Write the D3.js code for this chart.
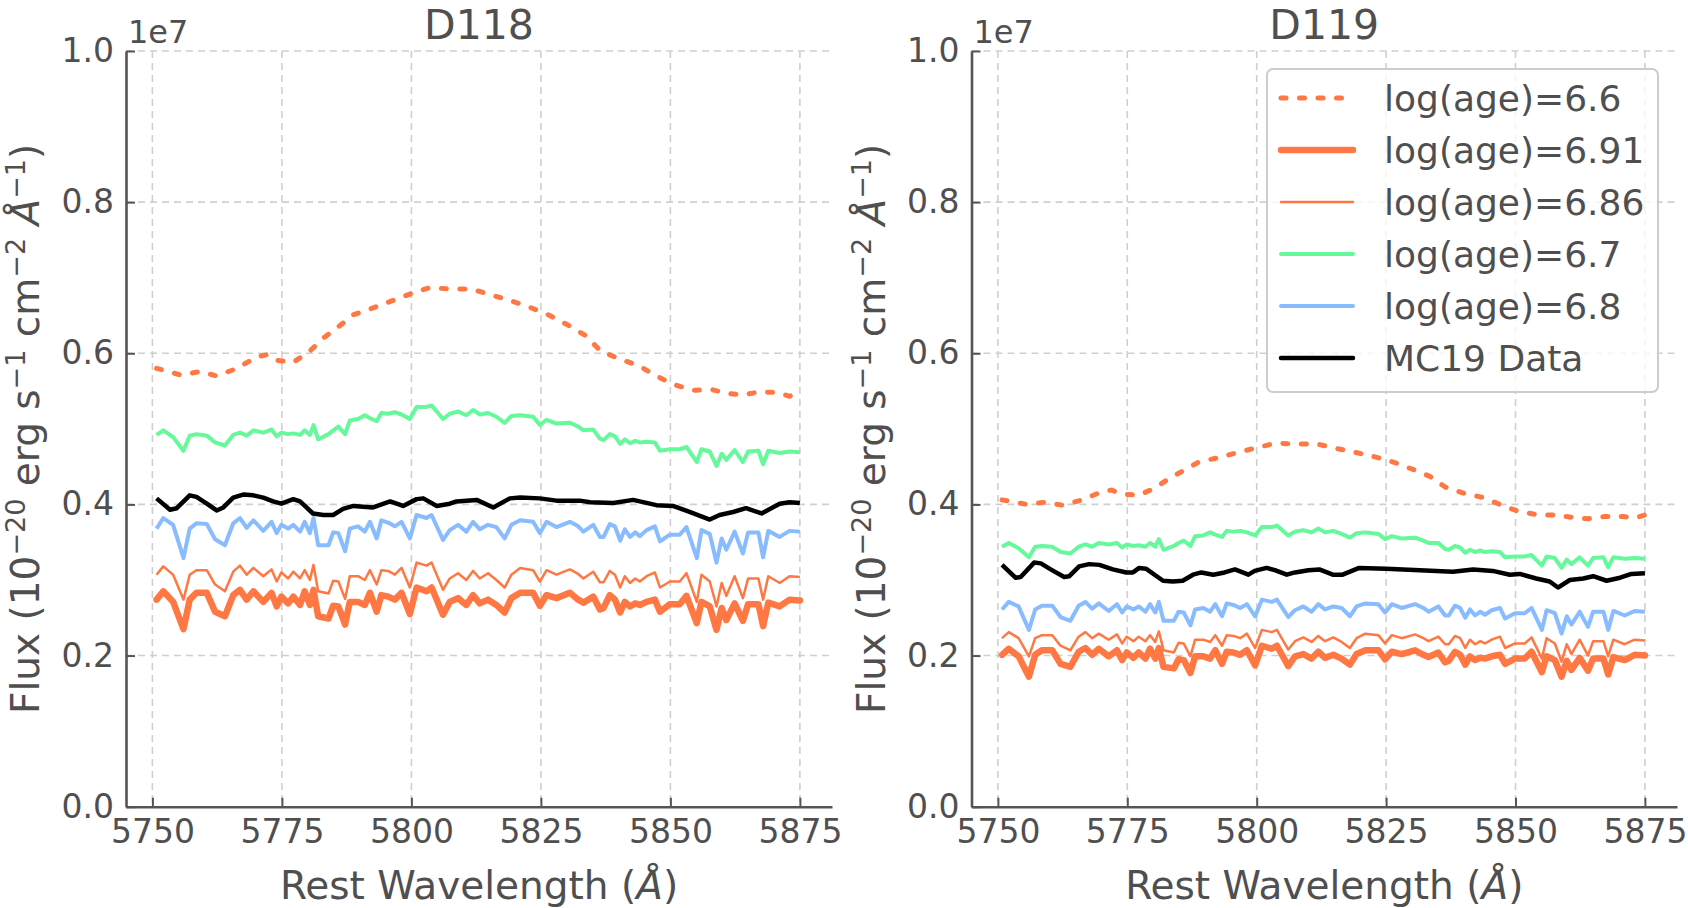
<!DOCTYPE html>
<html>
<head>
<meta charset="utf-8">
<script src="https://cdnjs.cloudflare.com/ajax/libs/d3/7.8.5/d3.min.js"></script>
<style>
body { margin:0; background:white; }
text { font-family: "DejaVu Sans", sans-serif; fill:#4f4f4f; }
</style>
</head>
<body>
<div id="chart"></div>
<script>

// Data (flux in units of 1e7)

var xTicks = [5750, 5775, 5800, 5825, 5850, 5875];
var yTicks = [0.0, 0.2, 0.4, 0.6, 0.8, 1.0];
var panelTitles = ["D118", "D119"];
var seriesLabels = ["log(age)=6.6", "log(age)=6.91", "log(age)=6.86", "log(age)=6.7", "log(age)=6.8", "MC19 Data"];

var waveModel = [5750.8,5752.1,5754.0,5756.0,5757.2,5758.5,5760.5,5762.1,5764.0,5765.6,
	5766.9,5768.2,5769.5,5771.4,5773.0,5774.0,5774.9,5776.2,5777.2,5778.5,
	5779.4,5780.4,5781.1,5782.0,5784.0,5784.9,5785.9,5787.2,5788.1,5789.7,
	5791.0,5792.0,5793.3,5794.2,5795.5,5796.8,5798.1,5799.7,5801.0,5802.9,
	5803.9,5806.1,5807.4,5809.0,5810.6,5811.9,5813.2,5814.8,5816.4,5818.0,
	5819.3,5821.0,5823.5,5824.8,5826.1,5828.0,5830.6,5832.2,5833.2,5835.1,
	5836.4,5837.1,5838.3,5839.3,5840.3,5841.2,5842.2,5843.2,5844.1,5845.4,
	5847.0,5848.0,5849.9,5851.8,5853.1,5855.1,5856.0,5857.6,5858.9,5859.9,
	5860.8,5862.4,5864.0,5865.0,5867.0,5867.9,5868.9,5871.1,5873.0,5875.0];

var waveSmooth = [5750.8,5755.6,5759.2,5762.4,5766.3,5770.1,5772.0,5773.6,5777.2,5780.4,
	5783.0,5785.9,5788.8,5792.6,5796.5,5800.0,5803.6,5807.5,5811.6,5815.5,
	5819.0,5822.8,5826.4,5830.3,5833.5,5836.4,5839.9,5843.8,5847.3,5850.5,
	5854.4,5858.0,5860.8,5864.0,5867.3,5870.8,5873.0,5875.0];

// D118
var age66_D118 = [0.580,0.571,0.576,0.570,0.580,0.595,0.598,0.591,0.588,0.603,
	0.620,0.635,0.651,0.660,0.670,0.679,0.687,0.685,0.685,0.677,
	0.670,0.661,0.651,0.637,0.624,0.604,0.593,0.584,0.570,0.559,
	0.551,0.552,0.547,0.545,0.549,0.548,0.543,0.551];

var age691_D118 = [0.274,0.285,0.271,0.235,0.274,0.283,0.283,0.258,0.252,0.280,
	0.287,0.274,0.285,0.271,0.283,0.265,0.278,0.269,0.278,0.267,
	0.285,0.267,0.287,0.252,0.249,0.266,0.265,0.241,0.271,0.271,
	0.267,0.283,0.258,0.280,0.278,0.274,0.283,0.255,0.290,0.285,
	0.290,0.254,0.271,0.276,0.267,0.280,0.269,0.274,0.267,0.257,
	0.276,0.283,0.283,0.266,0.280,0.276,0.283,0.274,0.270,0.278,
	0.261,0.263,0.280,0.274,0.257,0.271,0.265,0.269,0.267,0.271,
	0.274,0.258,0.268,0.268,0.279,0.243,0.271,0.265,0.234,0.263,
	0.247,0.269,0.246,0.268,0.268,0.239,0.270,0.265,0.274,0.273];

var age686_D118 = [0.307,0.318,0.307,0.274,0.307,0.313,0.313,0.294,0.285,0.311,
	0.319,0.307,0.316,0.305,0.314,0.298,0.310,0.302,0.311,0.302,
	0.313,0.300,0.320,0.285,0.282,0.299,0.298,0.275,0.305,0.305,
	0.300,0.313,0.294,0.313,0.312,0.307,0.316,0.290,0.323,0.319,
	0.323,0.287,0.302,0.309,0.300,0.312,0.302,0.309,0.300,0.290,
	0.307,0.316,0.313,0.298,0.313,0.307,0.314,0.308,0.302,0.311,
	0.297,0.297,0.312,0.307,0.290,0.305,0.296,0.302,0.298,0.305,
	0.310,0.290,0.298,0.298,0.309,0.271,0.307,0.298,0.265,0.296,
	0.279,0.305,0.276,0.302,0.302,0.274,0.305,0.296,0.305,0.304];

var age67_D118 = [0.492,0.498,0.489,0.471,0.491,0.493,0.491,0.482,0.478,0.492,
	0.495,0.491,0.498,0.495,0.499,0.490,0.495,0.493,0.494,0.492,
	0.498,0.492,0.505,0.486,0.493,0.498,0.503,0.493,0.511,0.513,
	0.518,0.514,0.510,0.521,0.520,0.522,0.519,0.513,0.529,0.529,
	0.531,0.513,0.520,0.523,0.518,0.525,0.519,0.521,0.516,0.508,
	0.517,0.518,0.516,0.505,0.512,0.507,0.508,0.503,0.498,0.499,
	0.487,0.485,0.493,0.490,0.480,0.486,0.481,0.484,0.482,0.483,
	0.482,0.471,0.473,0.473,0.476,0.456,0.473,0.470,0.451,0.467,
	0.459,0.472,0.456,0.470,0.471,0.453,0.471,0.468,0.470,0.469];

var age68_D118 = [0.368,0.382,0.373,0.329,0.368,0.375,0.374,0.354,0.346,0.375,
	0.382,0.369,0.379,0.365,0.377,0.362,0.373,0.368,0.373,0.364,
	0.377,0.362,0.382,0.346,0.346,0.363,0.362,0.338,0.368,0.371,
	0.364,0.377,0.355,0.379,0.376,0.371,0.377,0.355,0.386,0.382,
	0.386,0.353,0.366,0.373,0.364,0.377,0.367,0.373,0.370,0.355,
	0.373,0.379,0.377,0.362,0.377,0.370,0.377,0.371,0.364,0.373,
	0.357,0.357,0.374,0.371,0.352,0.367,0.357,0.363,0.358,0.366,
	0.371,0.351,0.360,0.360,0.370,0.329,0.366,0.361,0.323,0.355,
	0.340,0.364,0.335,0.363,0.363,0.330,0.365,0.357,0.365,0.364];

var waveObs_D118 = [5750.8,5753.4,5754.7,5757.2,5758.5,5760.5,5762.4,5763.7,5765.6,5767.5,
	5769.5,5771.4,5773.3,5774.9,5777.2,5778.5,5781.0,5783.0,5784.9,5786.8,
	5788.8,5790.7,5792.6,5795.9,5798.4,5801.0,5802.3,5804.9,5807.4,5808.7,
	5812.6,5815.8,5819.0,5821.0,5824.8,5828.0,5832.5,5834.5,5839.0,5842.8,
	5847.3,5850.5,5853.7,5857.6,5859.5,5862.1,5864.6,5867.6,5871.1,5873.0,5875.0];
var mc19_D118 = [0.408,0.393,0.395,0.412,0.410,0.401,0.392,0.396,0.409,0.413,
	0.412,0.409,0.404,0.401,0.407,0.404,0.388,0.386,0.386,0.394,
	0.398,0.397,0.396,0.404,0.398,0.407,0.408,0.398,0.401,0.404,
	0.406,0.396,0.408,0.409,0.408,0.405,0.405,0.403,0.402,0.406,
	0.399,0.398,0.390,0.380,0.386,0.390,0.395,0.388,0.401,0.403,0.402];

// D119
var age66_D119 = [0.406,0.400,0.403,0.399,0.406,0.417,0.419,0.414,0.412,0.422,
	0.434,0.445,0.456,0.462,0.469,0.475,0.481,0.480,0.480,0.474,
	0.469,0.463,0.456,0.446,0.437,0.423,0.415,0.409,0.399,0.391,
	0.386,0.386,0.383,0.381,0.384,0.384,0.382,0.386];

var age691_D119 = [0.201,0.209,0.199,0.172,0.201,0.207,0.207,0.189,0.185,0.205,
	0.210,0.201,0.209,0.199,0.207,0.194,0.204,0.197,0.204,0.196,
	0.209,0.196,0.210,0.185,0.183,0.195,0.194,0.177,0.199,0.199,
	0.196,0.207,0.189,0.205,0.204,0.201,0.207,0.187,0.213,0.209,
	0.213,0.186,0.199,0.202,0.196,0.205,0.197,0.201,0.196,0.188,
	0.202,0.207,0.207,0.195,0.205,0.202,0.207,0.201,0.198,0.204,
	0.191,0.193,0.205,0.201,0.188,0.199,0.194,0.197,0.196,0.199,
	0.201,0.189,0.196,0.196,0.205,0.178,0.199,0.194,0.172,0.193,
	0.181,0.197,0.180,0.196,0.196,0.175,0.198,0.194,0.201,0.200];

var age686_D119 = [0.223,0.231,0.223,0.199,0.223,0.227,0.227,0.213,0.207,0.225,
	0.231,0.223,0.229,0.221,0.228,0.216,0.225,0.219,0.225,0.219,
	0.227,0.218,0.232,0.207,0.204,0.217,0.216,0.199,0.221,0.221,
	0.218,0.227,0.213,0.227,0.226,0.223,0.229,0.210,0.234,0.231,
	0.234,0.208,0.219,0.224,0.218,0.226,0.219,0.224,0.218,0.210,
	0.223,0.229,0.227,0.216,0.227,0.223,0.228,0.223,0.219,0.225,
	0.215,0.215,0.226,0.223,0.210,0.221,0.215,0.219,0.216,0.221,
	0.225,0.210,0.216,0.216,0.224,0.196,0.223,0.216,0.192,0.215,
	0.202,0.221,0.200,0.219,0.219,0.199,0.221,0.215,0.221,0.220];

var age67_D119 = [0.344,0.349,0.342,0.330,0.344,0.345,0.344,0.337,0.335,0.344,
	0.347,0.344,0.349,0.347,0.349,0.343,0.347,0.345,0.346,0.344,
	0.349,0.344,0.354,0.340,0.345,0.349,0.352,0.345,0.358,0.359,
	0.363,0.360,0.357,0.365,0.364,0.365,0.363,0.359,0.370,0.370,
	0.372,0.359,0.364,0.366,0.363,0.368,0.363,0.365,0.361,0.356,
	0.362,0.363,0.361,0.354,0.358,0.355,0.356,0.352,0.349,0.349,
	0.341,0.340,0.345,0.343,0.336,0.340,0.337,0.339,0.337,0.338,
	0.337,0.330,0.331,0.331,0.333,0.319,0.331,0.329,0.316,0.327,
	0.321,0.330,0.319,0.329,0.330,0.317,0.330,0.328,0.329,0.328];

var age68_D119 = [0.261,0.271,0.265,0.234,0.261,0.266,0.266,0.251,0.246,0.266,
	0.271,0.262,0.269,0.259,0.268,0.257,0.265,0.261,0.265,0.258,
	0.268,0.257,0.271,0.246,0.246,0.258,0.257,0.240,0.261,0.263,
	0.258,0.268,0.252,0.269,0.267,0.263,0.268,0.252,0.274,0.271,
	0.274,0.251,0.260,0.265,0.258,0.268,0.261,0.265,0.263,0.252,
	0.265,0.269,0.268,0.257,0.268,0.263,0.268,0.263,0.258,0.265,
	0.253,0.253,0.266,0.263,0.250,0.261,0.253,0.258,0.254,0.260,
	0.263,0.249,0.256,0.256,0.263,0.234,0.260,0.256,0.229,0.252,
	0.241,0.258,0.238,0.258,0.258,0.234,0.259,0.253,0.259,0.258];

var waveObs_D119 = [5750.8,5753.4,5754.4,5757.0,5758.3,5760.2,5762.8,5763.8,5765.7,5767.6,
	5769.6,5772.2,5774.8,5776.1,5777.3,5778.6,5781.9,5783.8,5785.7,5787.7,
	5789.3,5791.6,5793.8,5795.8,5798.4,5799.6,5801.9,5803.5,5805.8,5807.4,
	5810.0,5812.1,5814.7,5816.6,5819.8,5825.0,5831.5,5837.9,5841.8,5845.6,
	5848.9,5850.8,5854.0,5856.6,5858.2,5860.5,5863.1,5865.0,5867.6,5870.2,5872.4,5875.0];
var mc19_D119 = [0.320,0.303,0.304,0.323,0.322,0.314,0.304,0.305,0.318,0.321,
	0.320,0.314,0.310,0.310,0.316,0.315,0.299,0.298,0.299,0.307,
	0.310,0.307,0.310,0.314,0.307,0.312,0.316,0.313,0.307,0.310,
	0.313,0.314,0.307,0.307,0.316,0.315,0.313,0.311,0.314,0.312,
	0.307,0.308,0.302,0.298,0.290,0.300,0.302,0.305,0.299,0.303,0.308,0.309];


// Styles

var width = 1688, height = 908;
var axisColor = "#555555", gridColor = "#cfcfcf";
var orange = "#ff7843", green = "#66f99b", blue = "#88bbff";

var styles = [
	{color:orange, width:5,   dash:"5,13.5", cap:"round"},
	{color:orange, width:6.5, dash:null, cap:"round"},
	{color:orange, width:2.5, dash:null, cap:"butt"},
	{color:green,  width:4,   dash:null, cap:"butt"},
	{color:blue,   width:4,   dash:null, cap:"butt"},
	{color:"black",width:4.5, dash:null, cap:"butt"}
];

var panels = [
	{title:panelTitles[0], left:126, right:832,
	 series:[[waveSmooth,age66_D118],[waveModel,age691_D118],[waveModel,age686_D118],
	         [waveModel,age67_D118],[waveModel,age68_D118],[waveObs_D118,mc19_D118]], legend:false},
	{title:panelTitles[1], left:971.5, right:1677,
	 series:[[waveSmooth,age66_D119],[waveModel,age691_D119],[waveModel,age686_D119],
	         [waveModel,age67_D119],[waveModel,age68_D119],[waveObs_D119,mc19_D119]], legend:true}
];

var yTop = 51, yBot = 806.7;

var svg = d3.select("#chart").append("svg")
	.attr("width",width)
	.attr("height",height);

svg.append("rect").attr("width","100%").attr("height","100%").attr("fill","white");


function drawPanel(p){

	var x = d3.scaleLinear().domain([5744.9,5881.2]).range([p.left,p.right]);
	var y = d3.scaleLinear().domain([0,1]).range([yBot,yTop]);
	var g = svg.append("g");

	// grid
	g.selectAll(".xgrid").data(xTicks).enter().append("line")
		.attr("x1",function(d){return x(d)}).attr("x2",function(d){return x(d)})
		.attr("y1",yTop).attr("y2",yBot)
		.style("stroke",gridColor).style("stroke-width",1.6).style("stroke-dasharray","7,5");

	g.selectAll(".ygrid").data(yTicks).enter().append("line")
		.attr("x1",p.left).attr("x2",p.right)
		.attr("y1",function(d){return y(d)}).attr("y2",function(d){return y(d)})
		.style("stroke",gridColor).style("stroke-width",1.6).style("stroke-dasharray","7,5");

	// spectra
	var line = d3.line().x(function(d){return x(d[0])}).y(function(d){return y(d[1])});

	p.series.forEach(function(s,i){
		var st = styles[i];
		g.append("path").datum(d3.zip(s[0],s[1])).attr("d",line)
			.style("fill","none").style("stroke",st.color).style("stroke-width",st.width)
			.style("stroke-linejoin","round").style("stroke-linecap",st.cap)
			.style("stroke-dasharray",st.dash);
	});

	// axes
	var xAxis = g.append("g").attr("transform","translate(0,"+yBot+")")
		.call(d3.axisBottom(x).tickValues(xTicks).tickFormat(d3.format("d")).tickSizeInner(-9).tickSizeOuter(0).tickPadding(13));
	var yAxis = g.append("g").attr("transform","translate("+p.left+",0)")
		.call(d3.axisLeft(y).tickValues(yTicks).tickFormat(d3.format(".1f")).tickSizeInner(-9).tickSizeOuter(0).tickPadding(12));

	[xAxis,yAxis].forEach(function(a){
		a.attr("font-family",null).attr("font-size",null);
		a.select(".domain").style("stroke",axisColor).style("stroke-width",2.6);
		a.selectAll(".tick line").style("stroke",axisColor).style("stroke-width",2);
		a.selectAll(".tick text").style("fill","#4f4f4f").style("font-size","33px");
	});

	// labels
	var cx = (p.left+p.right)/2;
	g.append("text").attr("x",cx).attr("y",39).attr("text-anchor","middle")
		.style("font-size","41px").text(p.title);

	g.append("text").attr("x",p.left+2).attr("y",43).style("font-size","32px").text("1e7");

	var xl = g.append("text").attr("x",cx).attr("y",899).attr("text-anchor","middle").style("font-size","39px");
	xl.append("tspan").text("Rest Wavelength (");
	xl.append("tspan").style("font-style","italic").text("Å");
	xl.append("tspan").text(")");

	var yl = g.append("text").attr("text-anchor","middle").style("font-size","39px")
		.attr("transform","translate("+(p.left-87)+","+((yTop+yBot)/2)+")rotate(-90)");
	var parts = [["Flux (10",false],["\u221220",true],[" erg s",false],["\u22121",true],
	             [" cm",false],["\u22122",true],[" ",false],["Å",false],["\u22121",true],[")",false]];
	var raised = false;
	parts.forEach(function(t){
		var ts = yl.append("tspan").text(t[0]);
		if (t[1] && !raised) { ts.attr("dy",-14).style("font-size","27px"); raised = true; }
		else if (t[1]) { ts.style("font-size","27px"); }
		else if (raised) { ts.attr("dy",14); raised = false; }
		if (t[0]=="Å") { ts.style("font-style","italic"); }
	});

	if (p.legend) { drawLegend(g); }
}


function drawLegend(g){
	var lx = 1267, ly = 69;
	g.append("rect").attr("x",lx).attr("y",ly).attr("width",391).attr("height",323)
		.attr("rx",6).attr("ry",6)
		.style("fill","white").style("fill-opacity",0.8)
		.style("stroke","#cccccc").style("stroke-width",2);

	var rows = g.selectAll(".legrow").data(seriesLabels).enter().append("g")
		.attr("transform",function(d,i){return "translate(0,"+(98+i*52)+")"});

	rows.append("line").attr("x1",1281).attr("x2",1353).attr("y1",0).attr("y2",0)
		.style("stroke",function(d,i){return styles[i].color})
		.style("stroke-width",function(d,i){return styles[i].width})
		.style("stroke-dasharray",function(d,i){return styles[i].dash})
		.style("stroke-linecap","round");

	rows.append("text").attr("x",1384).attr("y",0).attr("dy","0.36em")
		.style("font-size","36px").text(function(d){return d});
}

panels.forEach(drawPanel);

</script>
</body>
</html>
